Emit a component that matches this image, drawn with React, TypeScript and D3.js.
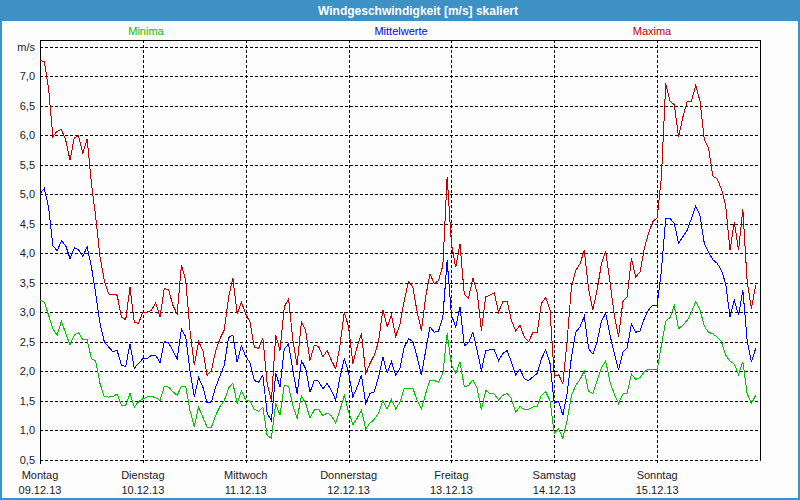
import React from "react";
import * as d3 from "d3";

const maxima = [
  7.27, 7.25, 6.8, 5.98, 6.07, 6.1, 5.92, 5.58, 5.96, 5.99, 5.7, 5.94, 5.18, 4.62, 3.94, 3.54, 3.31, 3.3, 3.29, 2.92, 2.87, 3.42, 2.83, 2.81,
  3.0, 3.0, 3.03, 3.16, 2.92, 3.4, 3.38, 3.12, 2.97, 3.8, 3.54, 2.69, 2.1, 2.5, 2.35, 1.93, 2.01, 2.35, 2.55, 2.7, 3.25, 3.58, 2.97, 3.17,
  2.97, 2.83, 2.41, 2.38, 2.56, 1.79, 1.5, 2.61, 2.35, 3.09, 3.23, 2.52, 2.1, 2.83, 2.69, 2.18, 2.44, 2.42, 2.24, 2.35, 2.18, 2.04, 2.44, 3.0,
  2.75, 2.13, 2.41, 2.64, 1.96, 2.13, 2.27, 2.5, 3.04, 2.75, 2.95, 2.59, 2.8, 3.2, 3.52, 3.43, 3.0, 2.69, 3.27, 3.65, 3.48, 3.54, 3.79, 5.3,
  4.16, 3.76, 4.16, 3.3, 3.24, 3.58, 3.33, 2.69, 3.26, 3.29, 3.33, 3.0, 3.18, 3.18, 2.86, 2.68, 2.78, 2.58, 2.5, 2.65, 2.65, 3.15, 3.25, 3.04,
  1.91, 1.94, 1.79, 2.52, 3.43, 3.71, 3.82, 4.05, 3.4, 3.04, 3.38, 3.82, 4.03, 3.51, 2.95, 2.58, 3.18, 3.26, 3.91, 3.6, 3.68, 4.08, 4.34, 4.54,
  4.6, 5.3, 6.88, 6.58, 6.52, 5.97, 6.31, 6.57, 6.58, 6.85, 6.58, 5.93, 5.78, 5.31, 5.26, 5.09, 4.81, 4.05, 4.53, 4.05, 4.75, 3.52, 3.06, 3.46,
];

const mittelwerte = [
  5.01, 5.1, 4.78, 4.13, 4.04, 4.21, 4.13, 3.91, 4.09, 4.06, 3.95, 4.11, 3.77, 3.31, 2.81, 2.5, 2.41, 2.33, 2.35, 2.1, 2.08, 2.46, 2.05, 2.13,
  2.21, 2.21, 2.27, 2.27, 2.14, 2.5, 2.48, 2.35, 2.21, 2.72, 2.58, 2.01, 1.56, 1.89, 1.73, 1.46, 1.48, 1.73, 1.92, 2.1, 2.57, 2.61, 2.15, 2.43,
  2.25, 2.14, 1.84, 1.81, 1.93, 1.28, 1.16, 1.97, 1.73, 2.38, 2.46, 2.01, 1.62, 2.18, 2.04, 1.64, 1.84, 1.83, 1.7, 1.79, 1.67, 1.51, 1.9, 2.21,
  1.98, 1.56, 1.73, 1.93, 1.45, 1.62, 1.65, 1.9, 2.24, 1.97, 2.16, 1.93, 2.05, 2.41, 2.55, 2.5, 2.24, 1.93, 2.35, 2.75, 2.66, 2.68, 2.92, 3.88,
  2.95, 2.75, 3.09, 2.43, 2.48, 2.66, 2.35, 2.01, 2.35, 2.36, 2.36, 2.18, 2.3, 2.35, 2.15, 1.93, 2.04, 1.87, 1.84, 1.9, 1.96, 2.21, 2.36, 2.13,
  1.45, 1.49, 1.25, 1.62, 2.24, 2.66, 2.75, 2.93, 2.38, 2.29, 2.5, 2.85, 2.98, 2.61, 2.3, 2.02, 2.32, 2.39, 2.8, 2.66, 2.68, 2.89, 3.04, 3.12,
  3.12, 3.71, 4.59, 4.59, 4.51, 4.17, 4.28, 4.39, 4.59, 4.8, 4.64, 4.17, 4.02, 3.89, 3.83, 3.71, 3.48, 2.92, 3.2, 2.95, 3.38, 2.52, 2.15, 2.39,
];

const minima = [
  3.21, 3.17, 2.95, 2.72, 2.61, 2.85, 2.64, 2.45, 2.61, 2.65, 2.53, 2.53, 2.21, 2.17, 1.79, 1.57, 1.56, 1.57, 1.61, 1.42, 1.42, 1.62, 1.39, 1.48,
  1.53, 1.56, 1.57, 1.55, 1.5, 1.74, 1.73, 1.65, 1.59, 1.74, 1.74, 1.33, 1.06, 1.39, 1.22, 1.05, 1.05, 1.25, 1.4, 1.5, 1.71, 1.8, 1.45, 1.67,
  1.51, 1.49, 1.35, 1.32, 1.39, 0.91, 0.86, 1.45, 1.25, 1.76, 1.74, 1.42, 1.2, 1.58, 1.45, 1.2, 1.34, 1.35, 1.24, 1.29, 1.24, 1.12, 1.34, 1.59,
  1.31, 1.09, 1.2, 1.34, 1.02, 1.12, 1.18, 1.29, 1.5, 1.36, 1.52, 1.36, 1.47, 1.71, 1.71, 1.71, 1.5, 1.36, 1.62, 1.85, 1.84, 1.81, 1.96, 2.64,
  2.1, 1.96, 2.16, 1.73, 1.76, 1.85, 1.71, 1.34, 1.67, 1.62, 1.61, 1.51, 1.59, 1.62, 1.53, 1.3, 1.4, 1.35, 1.35, 1.39, 1.4, 1.59, 1.65, 1.5,
  0.94, 1.02, 0.86, 1.17, 1.58, 1.76, 1.86, 2.0, 1.66, 1.62, 1.84, 2.06, 2.17, 1.81, 1.61, 1.45, 1.61, 1.63, 1.95, 1.86, 1.89, 1.99, 2.03, 2.02,
  2.02, 2.44, 2.85, 2.91, 3.11, 2.72, 2.78, 2.86, 3.0, 3.18, 3.04, 2.76, 2.66, 2.63, 2.58, 2.5, 2.27, 2.17, 2.12, 1.94, 2.16, 1.62, 1.45, 1.59,
];

const dayNames = ["Montag", "Dienstag", "Mittwoch", "Donnerstag", "Freitag", "Samstag", "Sonntag"];
const dayDates = ["09.12.13", "10.12.13", "11.12.13", "12.12.13", "13.12.13", "14.12.13", "15.12.13"];
const yTicks = [0.5, 1.0, 1.5, 2.0, 2.5, 3.0, 3.5, 4.0, 4.5, 5.0, 5.5, 6.0, 6.5, 7.0, 7.5];
const legendItems = [
  { label: "Minima", color: "#00c000", x: 146 },
  { label: "Mittelwerte", color: "#0000ff", x: 401 },
  { label: "Maxima", color: "#c00000", x: 652 },
];
const titleText = "Windgeschwindigkeit [m/s] skaliert";

const W = 800;
const H = 500;
const left = 40;
const right = 760;
const top = 40;
const font = "'Liberation Sans', Arial, sans-serif";

export default function App() {
  const x = d3.scaleLinear().domain([0, 168]).range([left, right]);
  const y = d3.scaleLinear().domain([0.5, 7.5]).range([459.5, 47]);
  const line = d3
    .line<number>()
    .x((_, i) => x(i))
    .y((d) => y(d));
  const series = [
    { data: minima, color: "#00c000" },
    { data: mittelwerte, color: "#0000ff" },
    { data: maxima, color: "#c00000" },
  ];
  const bottom = y(0.5);
  const fmt = (v: number) => v.toFixed(1).replace(".", ",");
  return (
    <svg
      width={W}
      height={H}
      style={{ position: "fixed", left: 0, top: 0, display: "block" }}
      fontFamily={font}
    >
      <rect x={0} y={0} width={W} height={H} fill="#3d91c5" />
      <rect x={2} y={21} width={W - 4} height={H - 23} fill="#fcfdfc" />
      <text
        x={418}
        y={14.5}
        textAnchor="middle"
        fill="#ffffff"
        fontWeight="bold"
        fontSize={12}
      >
        {titleText}
      </text>
      {legendItems.map((l) => (
        <text key={l.label} x={l.x} y={35} textAnchor="middle" fill={l.color} fontSize={11}>
          {l.label}
        </text>
      ))}
      {/* horizontal grid */}
      {yTicks.map((t) => (
        <g key={t}>
          <line
            x1={left}
            x2={right}
            y1={Math.round(y(t)) + 0.5}
            y2={Math.round(y(t)) + 0.5}
            stroke="#000"
            strokeDasharray="3,2"
            shapeRendering="crispEdges"
          />
          <text
            x={35}
            y={Math.round(y(t)) + 4}
            textAnchor="end"
            fontSize={11}
            fill="#1a1a2a"
          >
            {t === 7.5 ? "m/s" : fmt(t)}
          </text>
        </g>
      ))}
      {/* vertical grid */}
      {dayNames.map((d, i) => (
        <g key={d}>
          {i > 0 && (
            <line
              x1={Math.round(x(i * 24)) + 0.5}
              x2={Math.round(x(i * 24)) + 0.5}
              y1={top}
              y2={bottom + 3}
              stroke="#000"
              strokeDasharray="3,2"
              shapeRendering="crispEdges"
            />
          )}
          <text x={x(i * 24)} y={479} textAnchor="middle" fontSize={11} fill="#1a1a2a">
            {d}
          </text>
          <text x={x(i * 24)} y={494} textAnchor="middle" fontSize={11} fill="#1a1a2a">
            {dayDates[i]}
          </text>
        </g>
      ))}
      {/* frame */}
      <line x1={left + 0.5} x2={left + 0.5} y1={top} y2={bottom + 4} stroke="#000" shapeRendering="crispEdges" />
      <line x1={left} x2={right + 1} y1={top + 0.5} y2={top + 0.5} stroke="#000" shapeRendering="crispEdges" />
      <line x1={right + 0.5} x2={right + 0.5} y1={top} y2={bottom + 1} stroke="#000" shapeRendering="crispEdges" />
      {series.map((s) => (
        <path
          key={s.color}
          d={line(s.data) || ""}
          fill="none"
          stroke={s.color}
          strokeWidth={1}
          shapeRendering="crispEdges"
        />
      ))}
    </svg>
  );
}
